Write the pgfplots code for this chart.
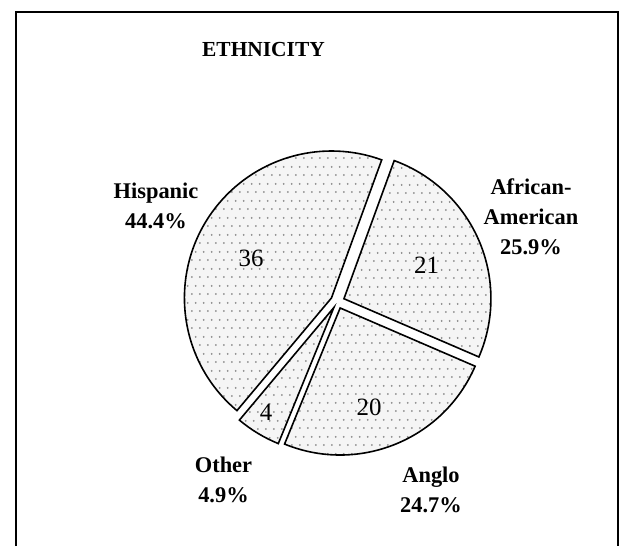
\documentclass[border=0pt]{standalone}
\usepackage{fontspec}
\setmainfont{Liberation Serif}
\usepackage{pgfplots}
\pgfplotsset{compat=1.18}
\usepackage{pgfplotstable}
\usetikzlibrary{calc,patterns}

\pgfdeclarepatternformonly{pdots}{\pgfqpoint{0bp}{0bp}}{\pgfqpoint{8.3bp}{16.6bp}}{\pgfqpoint{8.3bp}{16.6bp}}{%
  \pgfpathcircle{\pgfqpoint{2bp}{2bp}}{1.05bp}%
  \pgfpathcircle{\pgfqpoint{6.15bp}{10.3bp}}{1.05bp}%
  \pgfusepath{fill}%
}
\definecolor{slicebg}{HTML}{F5F5F5}
\definecolor{dotgray}{HTML}{8A8A8A}

% slice values, clockwise from the top: African-American, Anglo, Other, Hispanic
\pgfplotstableread{
value
21
20
4
36
}\ethdata
\pgfplotstablegetelem{0}{value}\of\ethdata\edef\vA{\pgfplotsretval}
\pgfplotstablegetelem{1}{value}\of\ethdata\edef\vB{\pgfplotsretval}
\pgfplotstablegetelem{2}{value}\of\ethdata\edef\vC{\pgfplotsretval}
\pgfplotstablegetelem{3}{value}\of\ethdata\edef\vD{\pgfplotsretval}
\pgfmathsetmacro\tot{\vA+\vB+\vC+\vD}
\pgfmathsetmacro\aA{70}
\pgfmathsetmacro\aB{\aA-360*\vA/\tot}
\pgfmathsetmacro\aC{\aB-360*\vB/\tot}
\pgfmathsetmacro\aD{\aC-360*\vC/\tot}
\pgfmathsetmacro\aE{\aD-360*\vD/\tot}
\pgfmathsetmacro\mA{(\aA+\aB)/2}
\pgfmathsetmacro\mB{(\aB+\aC)/2}
\pgfmathsetmacro\mC{(\aC+\aD)/2}
\pgfmathsetmacro\mD{(\aD+\aE)/2}

\tikzset{sl/.style={draw=black, line width=1.6bp, line join=miter,
  preaction={fill=slicebg}, pattern=pdots, pattern color=dotgray}}

\begin{document}
\begin{tikzpicture}
\begin{axis}[width=630bp, height=546bp, scale only axis,
  xmin=0, xmax=630, ymin=0, ymax=546, y dir=reverse,
  hide axis, clip=false]
\path (axis cs:0,0) rectangle (axis cs:630,546);
\addplot[draw=none, forget plot] coordinates {(0,0) (630,546)};
% frame
\draw[line width=2bp, line join=miter] (axis cs:15.7,546) -- (axis cs:15.7,12) -- (axis cs:618.3,12) -- (axis cs:618.3,546);
\coordinate (C) at (axis cs:337.5,301.5);
\def\R{147bp}
\def\E{7bp}
\filldraw[sl] ($(C)+(\mA:\E)$) -- ++(\aA:\R) arc[start angle=\aA, end angle=\aB, radius=\R] -- cycle;
\filldraw[sl] ($(C)+(\mB:\E)$) -- ++(\aB:\R) arc[start angle=\aB, end angle=\aC, radius=\R] -- cycle;
\filldraw[sl] ($(C)+(\mC:\E)$) -- ++(\aC:\R) arc[start angle=\aC, end angle=\aD, radius=\R] -- cycle;
\filldraw[sl] ($(C)+(\mD:\E)$) -- ++(\aD:\R) arc[start angle=\aD, end angle=\aE, radius=\R] -- cycle;
% title
\node[font=\bfseries\fontsize{21.5}{25}\selectfont, inner sep=0] at (axis cs:263.5,50) {ETHNICITY};
% values
\begin{scope}[every node/.style={font=\fontsize{25}{30}\selectfont, inner sep=0}]
\node at (axis cs:426.5,265) {21};
\node at (axis cs:369,407.5) {20};
\node at (axis cs:266,412.5) {4};
\node at (axis cs:251,258.5) {36};
\end{scope}
% category labels
\begin{scope}[every node/.style={font=\bfseries\fontsize{22.5}{30}\selectfont, align=center, inner sep=0}]
\node at (axis cs:531,216.5) {African-\\American\\25.9\%};
\node at (axis cs:431,490) {Anglo\\24.7\%};
\node at (axis cs:223.5,480) {Other\\4.9\%};
\node at (axis cs:156,206) {Hispanic\\44.4\%};
\end{scope}
\end{axis}
\end{tikzpicture}
\end{document}
